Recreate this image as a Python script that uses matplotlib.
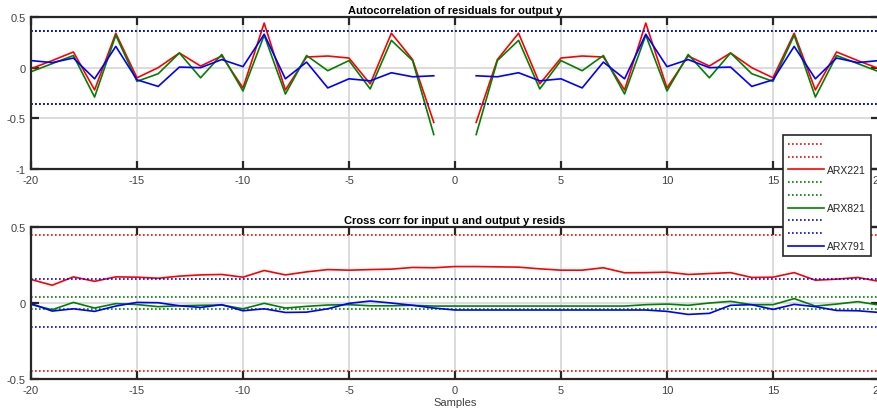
import numpy as np
import matplotlib
matplotlib.use('Agg')
import matplotlib.pyplot as plt

plt.rcParams['font.family'] = ['Liberation Sans', 'DejaVu Sans']

models = ['ARX221', 'ARX821', 'ARX791']
colors = ['#ff0000', '#008000', '#0000ff']

# residual autocorrelation, positive lags 1..20 (symmetric about lag 0)
pos_lags = np.arange(1, 21)
acf_pos = {
    'ARX221': [-0.54, 0.08, 0.34, -0.16, 0.095, 0.115, 0.105, -0.22, 0.44, -0.20,
               0.115, 0.016, 0.145, 0.0, -0.10, 0.34, -0.22, 0.155, 0.07, -0.01],
    'ARX821': [-0.66, 0.07, 0.27, -0.21, 0.07, -0.03, 0.12, -0.26, 0.32, -0.23,
               0.13, -0.10, 0.145, -0.06, -0.135, 0.32, -0.29, 0.12, 0.04, -0.04],
    'ARX791': [-0.08, -0.09, -0.05, -0.13, -0.11, -0.20, 0.055, -0.11, 0.33, 0.01,
               0.08, 0.0, 0.006, -0.185, -0.12, 0.21, -0.11, 0.095, 0.05, 0.07],
}
acf_conf = [0.36, 0.36, 0.36]

# cross correlation u vs residuals, lags -20..20
xc_lags = np.arange(-20, 21)
xcorr = {
    'ARX221': [0.155, 0.117, 0.172, 0.143, 0.172, 0.17, 0.163, 0.177, 0.185, 0.188,
               0.17, 0.214, 0.185, 0.205, 0.22, 0.216, 0.22, 0.223, 0.234, 0.232,
               0.24, 0.24, 0.238, 0.236, 0.225, 0.216, 0.216, 0.232, 0.199, 0.20,
               0.203, 0.188, 0.194, 0.20, 0.168, 0.17, 0.20, 0.15, 0.157, 0.168, 0.143],
    'ARX821': [-0.01, -0.044, 0.004, -0.033, -0.004, -0.01, -0.024, -0.018, -0.015, -0.013,
               -0.038, -0.002, -0.033, -0.022, -0.013, -0.011, -0.018, -0.018, -0.015, -0.02,
               -0.02, -0.02, -0.02, -0.02, -0.02, -0.02, -0.02, -0.02, -0.02, -0.011,
               -0.007, -0.015, 0.0, 0.011, -0.011, -0.011, 0.029, -0.02, -0.007, 0.009, -0.013],
    'ARX791': [-0.004, -0.053, -0.038, -0.055, -0.02, 0.004, 0.002, -0.018, -0.029, -0.011,
               -0.051, -0.038, -0.062, -0.06, -0.038, -0.002, 0.013, 0.0, -0.015, -0.033,
               -0.046, -0.046, -0.046, -0.046, -0.046, -0.046, -0.046, -0.046, -0.046, -0.046,
               -0.055, -0.075, -0.068, -0.015, -0.011, -0.042, -0.009, -0.024, -0.049, -0.051, -0.062],
}
xc_conf = [0.45, 0.038, 0.16]

fig = plt.figure(figsize=(8.78, 4.14), dpi=100)
ax1 = fig.add_axes([0.0353, 0.5894, 0.9658, 0.3671])
ax2 = fig.add_axes([0.0353, 0.0821, 0.9658, 0.3671])

dot = (0, (1, 1.4))
handles = []
labels = []
for name, c, ca, cx in zip(models, colors, acf_conf, xc_conf):
    vals = np.array(acf_pos[name])
    lags = np.concatenate([-pos_lags[::-1], [0], pos_lags])
    full = np.concatenate([vals[::-1], [np.nan], vals])
    h1, = ax1.plot([-20, 20], [ca, ca], color=c, ls=dot, lw=1.2)
    ax1.plot([-20, 20], [-ca, -ca], color=c, ls=dot, lw=1.2)
    ax1.plot(lags, full, color=c, lw=1.2)

    ax2.plot([-20, 20], [cx, cx], color=c, ls=dot, lw=1.2)
    ax2.plot([-20, 20], [-cx, -cx], color=c, ls=dot, lw=1.2)
    hl, = ax2.plot(xc_lags, xcorr[name], color=c, lw=1.2)
    handles += [h1, h1, hl]
    labels += ['', '', name]

for ax in (ax1, ax2):
    ax.set_xlim(-20, 20)
    ax.set_xticks(np.arange(-20, 21, 5))
    ax.grid(True, color='#d9d9d9', lw=1.3)
    ax.set_axisbelow(True)
    ax.tick_params(direction='in', length=6, width=1.6, color='#262626',
                   labelsize=8, labelcolor='#404040', top=True, right=True, pad=4)
    for sp in ax.spines.values():
        sp.set_linewidth(1.6)
        sp.set_color('#262626')

ax1.set_ylim(-1, 0.5)
ax1.set_yticks([-1, -0.5, 0, 0.5])
ax1.set_yticklabels(['-1', '-0.5', '0', '0.5'])
ax2.set_ylim(-0.5, 0.5)
ax2.set_yticks([-0.5, 0, 0.5])
ax2.set_yticklabels(['-0.5', '0', '0.5'])
for ax in (ax1, ax2):
    ax.set_xticklabels([str(v) for v in range(-20, 21, 5)])

ax1.set_title('Autocorrelation of residuals for output y', fontsize=8,
              fontweight='bold', pad=3)
ax2.set_title('Cross corr for input u and output y resids', fontsize=8,
              fontweight='bold', pad=3)
ax2.set_xlabel('Samples', fontsize=8, color='#404040', labelpad=2)

leg = fig.legend(handles, labels, loc='upper left',
                 bbox_to_anchor=(783 / 878, 1 - 136 / 414),
                 fontsize=7.5, frameon=True, fancybox=False, edgecolor='#262626',
                 framealpha=1, handlelength=3.5, handletextpad=0.3, labelspacing=0.26,
                 borderpad=0.45, borderaxespad=0, labelcolor='#262626')
leg.get_frame().set_linewidth(1.2)

fig.savefig('out.png', dpi=100)
